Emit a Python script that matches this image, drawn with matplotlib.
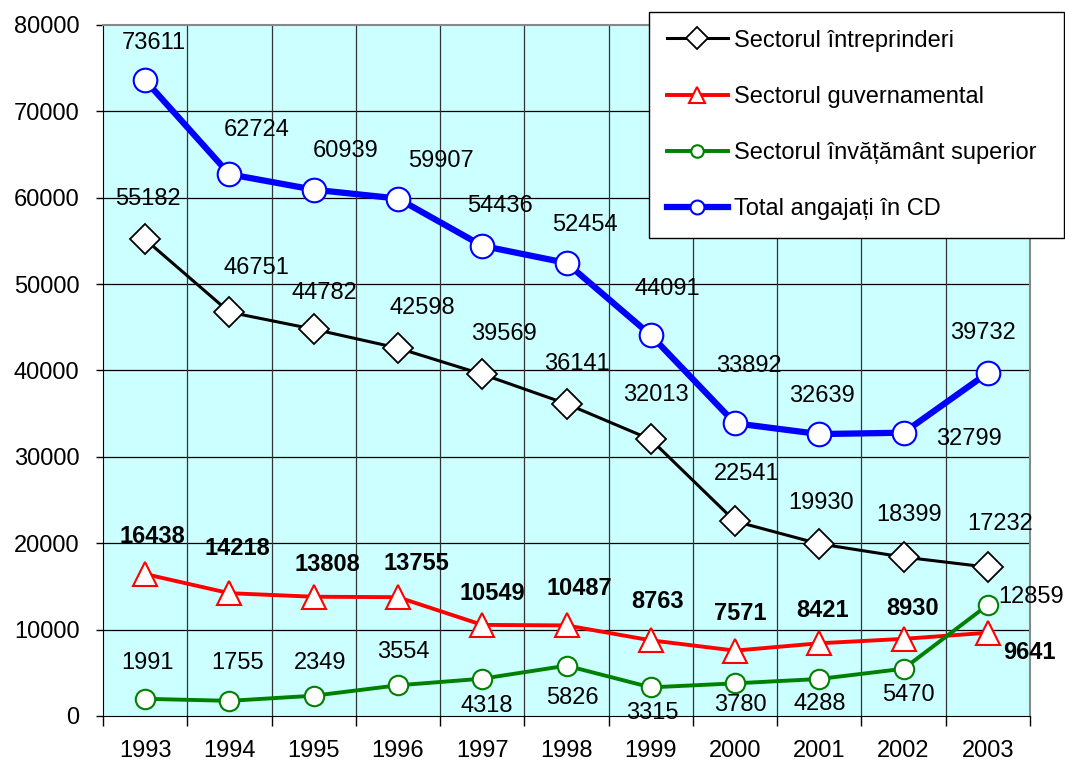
import matplotlib
matplotlib.use("Agg")
import matplotlib.pyplot as plt
import numpy as np

plt.rcParams['font.family'] = ['Liberation Sans', 'DejaVu Sans']

years = ['1993', '1994', '1995', '1996', '1997', '1998', '1999', '2000', '2001', '2002', '2003']

intreprinderi = [55182, 46751, 44782, 42598, 39569, 36141, 32013, 22541, 19930, 18399, 17232]
guvernamental = [16438, 14218, 13808, 13755, 10549, 10487, 8763, 7571, 8421, 8930, 9641]
superior = [1991, 1755, 2349, 3554, 4318, 5826, 3315, 3780, 4288, 5470, 12859]
total = [73611, 62724, 60939, 59907, 54436, 52454, 44091, 33892, 32639, 32799, 39732]

names = ['Sectorul întreprinderi', 'Sectorul guvernamental',
         'Sectorul învățământ superior', 'Total angajați în CD']

# label offsets in pixels (dx right, dy down)
off_intr = [(3, -40), (27, -44), (11, -36), (24, -40), (22, -40), (10, -40),
            (5, -44), (12, -47), (2, -41), (5, -42), (12, -43)]
off_guv = [(7, -38), (8, -45), (14, -32), (18, -34), (10, -31), (13, -37),
           (7, -39), (5, -37), (3, -33), (9, -30), (42, 20)]
off_sup = [(2, -36), (8, -38), (6, -33), (5, -33), (5, 27), (6, 32),
           (2, 26), (5, 22), (0, 25), (5, 26), (43, -8)]
off_tot = [(9, -37), (27, -44), (32, -39), (43, -38), (18, -40), (18, -38),
           (17, -46), (14, -57), (3, -38), (65, 6), (-5, -40)]

fig = plt.figure(figsize=(10.65, 7.61), dpi=100)
ax = fig.add_axes([103 / 1065, 1 - 716 / 761, 927 / 1065, 691 / 761])
ax.set_facecolor('#CCFFFF')

x = np.arange(len(years))

l1, = ax.plot(x, intreprinderi, color='black', lw=2.2, marker='D', ms=15,
              mfc='white', mec='black', mew=1.3, zorder=4)
l2, = ax.plot(x, guvernamental, color='red', lw=2.8, marker='^', ms=17,
              mfc='white', mec='red', mew=1.5, zorder=4)
l3, = ax.plot(x, superior, color='green', lw=2.8, marker='o', ms=14,
              mfc='white', mec='green', mew=1.5, zorder=4)
l4, = ax.plot(x, total, color='blue', lw=4.5, marker='o', ms=17,
              mfc='white', mec='blue', mew=1.5, zorder=5)

for vals, offs, bold in [(intreprinderi, off_intr, False), (guvernamental, off_guv, True),
                         (superior, off_sup, False), (total, off_tot, False)]:
    for xi, v, (dx, dy) in zip(x, vals, offs):
        ax.annotate(str(v), (xi, v), xytext=(dx, -dy), textcoords='offset pixels',
                    ha='center', va='center', fontsize=17,
                    fontweight='bold' if bold else 'normal', zorder=6)

ax.set_xlim(-0.5, len(years) - 0.5)
ax.set_ylim(0, 80000)
ax.set_yticks(np.arange(0, 80001, 10000))
ax.set_xticks(x)
ax.set_xticklabels(years)
ax.set_xticks(np.arange(-0.5, len(years), 1), minor=True)

ax.tick_params(axis='x', which='major', length=0, labelsize=17, pad=17)
ax.tick_params(axis='x', which='minor', length=7, width=1, direction='out')
ax.tick_params(axis='y', length=5, width=1, labelsize=17, pad=12)

ax.grid(False)
for yv in range(10000, 80000, 10000):
    ax.axhline(yv, color='black', lw=0.9, zorder=1)
for xv in np.arange(0.5, len(years) - 1, 1):
    ax.axvline(xv, color='#333333', lw=0.9, zorder=1)

ax.spines['top'].set_color('#888888')
ax.spines['right'].set_color('#888888')
ax.spines['top'].set_linewidth(1.5)
ax.spines['right'].set_linewidth(1.5)
ax.spines['left'].set_color('black')
ax.spines['bottom'].set_color('black')

leg = fig.legend([l1, l2, l3, l4], names, loc='upper left',
                 bbox_to_anchor=(649 / 1065, 1 - 236 / 761, 415 / 1065, 224 / 761),
                 mode='expand', borderaxespad=0, fontsize=17, fancybox=False,
                 framealpha=1, edgecolor='black', labelspacing=1.45,
                 handlelength=2.6, handletextpad=0.25, borderpad=0.75)
leg.get_frame().set_linewidth(1.0)
leg.set_zorder(10)
for h, ms in zip(leg.legend_handles, [11, 12, 9, 10]):
    h.set_markersize(ms)

fig.savefig('out.png', dpi=100)
